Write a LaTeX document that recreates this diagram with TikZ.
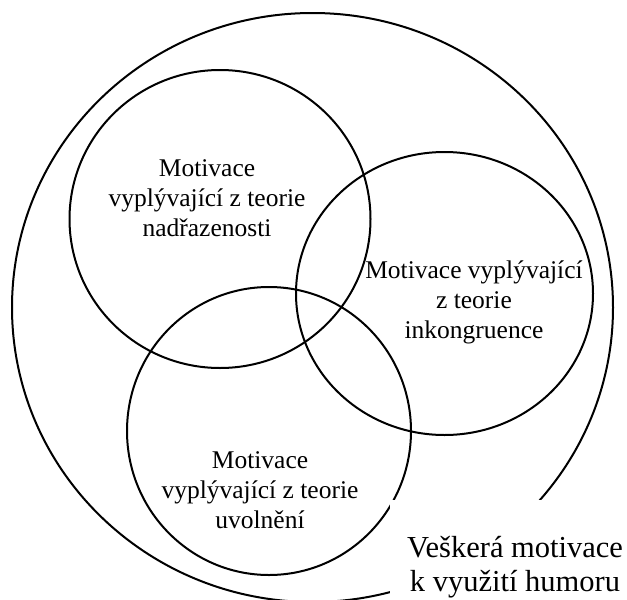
\documentclass[tikz,border=0pt]{standalone}
\usepackage{fontspec}
\setmainfont{Liberation Serif}
\begin{document}
\begin{tikzpicture}[x=1pt,y=-1pt,
  ring/.style={draw=black,line width=2pt},
  circtext/.style={align=center,inner sep=0pt,font=\fontsize{25.5}{30}\selectfont},
  labelbox/.style={fill=white,draw=none,inner sep=0pt,align=center,minimum width=250pt,minimum height=134pt,font=\fontsize{30.5}{33.5}\selectfont}]
\clip (0,0) rectangle (627,600);
\fill[white] (0,0) rectangle (627,600);
% outer set
\draw[ring] (312.5,307.5) ellipse [x radius=300.5pt, y radius=294.5pt];
% three circles
\draw[ring] (220,219) ellipse [x radius=150.5pt, y radius=149pt];
\draw[ring] (444.5,293.5) ellipse [x radius=148.5pt, y radius=141.5pt];
\draw[ring] (269,431) ellipse [x radius=142pt, y radius=144pt];
% label covering the outer ring
\node[labelbox] (all) at (515,567) {Veškerá motivace\\k využití humoru};
% texts
\node[circtext] (t1) at (207,198) {Motivace\\vyplývající z teorie\\nadřazenosti};
\node[circtext] (t2) at (474,302) {Motivace vyplývající\\z teorie\\inkongruence};
\node[circtext] (t3) at (260,490) {Motivace\\vyplývající z teorie\\uvolnění};
\end{tikzpicture}
\end{document}
